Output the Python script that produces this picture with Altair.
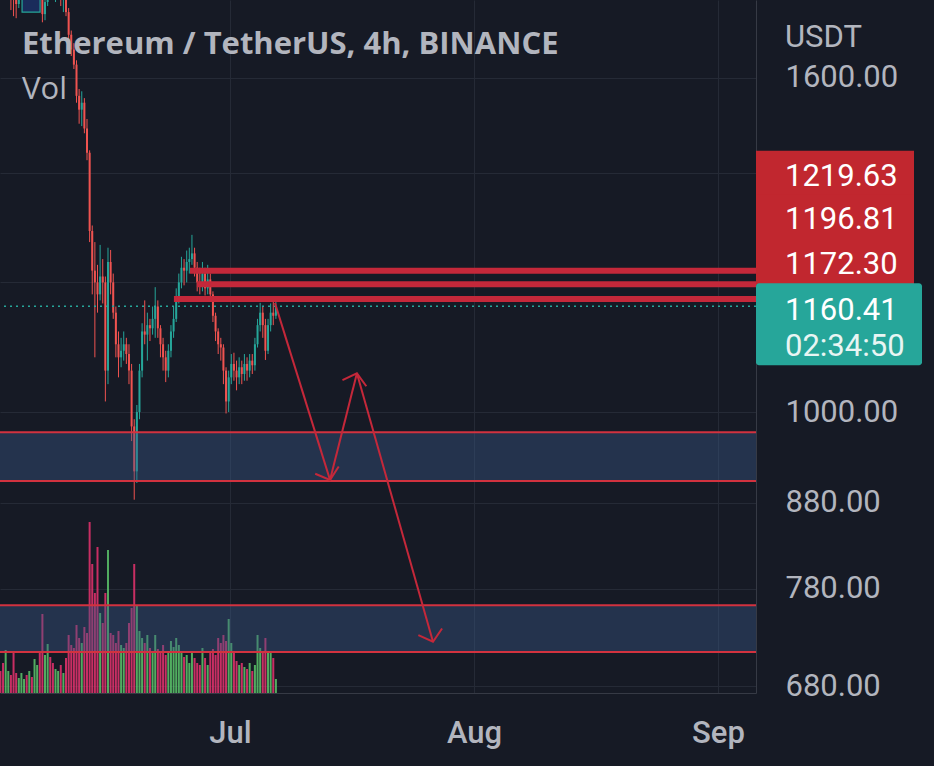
import altair as alt
import pandas as pd

# ---------------- data ----------------
# 8h candles of ETH/USDT starting 2022-06-01 00:00 UTC
first_open = 1942
close_ = [1900, 1860, 1820, 1810, 1830, 1835, 1810, 1790, 1775, 1790,
          1800, 1805, 1800, 1810, 1805, 1860, 1875, 1800, 1750, 1780,
          1815, 1810, 1795, 1795, 1800, 1790, 1790, 1755, 1700, 1665,
          1630, 1560, 1530, 1545, 1490, 1440, 1290, 1220, 1200, 1180,
          1210, 1200, 1060, 1235, 1200, 1150, 1100, 1080, 1090, 1100,
          1085, 1060, 980, 920, 1000, 1060, 1120, 1115, 1130, 1125,
          1140, 1160, 1125, 1100, 1080, 1060, 1090, 1120, 1140, 1170,
          1200, 1225, 1220, 1235, 1240, 1250, 1225, 1200, 1195, 1215,
          1190, 1205, 1180, 1145, 1120, 1100, 1095, 1060, 1015, 1050,
          1070, 1060, 1050, 1065, 1055, 1070, 1060, 1075, 1068, 1100,
          1130, 1150, 1130, 1090, 1130, 1150, 1145, 1160.41]
high_ = [1970, 1920, 1870, 1840, 1850, 1845, 1840, 1815, 1800, 1805,
         1810, 1815, 1815, 1825, 1820, 1880, 1900, 1885, 1810, 1790,
         1830, 1840, 1820, 1815, 1815, 1810, 1800, 1800, 1765, 1710,
         1680, 1640, 1575, 1570, 1555, 1510, 1445, 1300, 1270, 1230,
         1265, 1240, 1210, 1260, 1256, 1215, 1160, 1120, 1110, 1120,
         1110, 1100, 1070, 990, 1010, 1070, 1133, 1170, 1150, 1140,
         1160, 1192, 1170, 1130, 1110, 1090, 1100, 1130, 1160, 1190,
         1215, 1244, 1240, 1255, 1260, 1283, 1260, 1235, 1225, 1235,
         1225, 1230, 1215, 1185, 1150, 1125, 1110, 1100, 1065, 1060,
         1085, 1087, 1075, 1080, 1075, 1085, 1080, 1085, 1085, 1110,
         1140, 1166, 1160, 1140, 1140, 1165, 1170, 1168]
low_ = [1890, 1850, 1795, 1795, 1800, 1790, 1760, 1745, 1740, 1765,
        1785, 1790, 1790, 1795, 1790, 1800, 1850, 1790, 1730, 1735,
        1770, 1795, 1785, 1780, 1790, 1770, 1755, 1745, 1690, 1650,
        1620, 1545, 1500, 1495, 1480, 1425, 1270, 1180, 1080, 1150,
        1170, 1165, 1015, 1040, 1180, 1140, 1080, 1050, 1065, 1075,
        1070, 1040, 960, 884, 905, 990, 1050, 1100, 1075, 1105,
        1115, 1110, 1110, 1080, 1060, 1043, 1050, 1080, 1110, 1135,
        1165, 1190, 1195, 1200, 1215, 1230, 1210, 1185, 1180, 1185,
        1178, 1180, 1170, 1135, 1105, 1085, 1075, 1040, 998, 1000,
        1040, 1045, 1031, 1040, 1040, 1045, 1045, 1050, 1055, 1060,
        1095, 1120, 1110, 1076, 1085, 1120, 1130, 1140]
volume_k = [80, 72, 88, 120, 172, 88, 72, 164, 80, 60,
            80, 56, 72, 88, 64, 136, 112, 160, 316, 152,
            196, 144, 120, 96, 88, 112, 80, 140, 232, 192,
            180, 272, 220, 200, 264, 240, 684, 516, 400, 584,
            320, 280, 400, 572, 240, 232, 200, 248, 192, 180,
            200, 280, 340, 516, 352, 248, 220, 200, 232, 180,
            168, 232, 176, 160, 192, 152, 168, 208, 184, 220,
            192, 160, 144, 152, 120, 168, 140, 120, 112, 180,
            140, 112, 160, 176, 152, 220, 200, 232, 208, 296,
            200, 160, 128, 112, 120, 104, 96, 120, 88, 112,
            232, 180, 160, 220, 168, 160, 140, 56]

# support / resistance lines (price, start time)
level_prices = [1219.63, 1196.81, 1172.30]
level_starts = ["2022-06-25T22:00:00Z", "2022-06-26T19:00:00Z", "2022-06-23T21:00:00Z"]
last_price = 1160.41
countdown = "02:34:50"

# demand zones (top, bottom)
zone_tops = [972, 762]
zone_bottoms = [907.5, 713.5]

# projected path (arrows)
arrow_t0 = ["2022-07-06T17:00:00Z", "2022-07-13T17:00:00Z", "2022-07-17T03:00:00Z"]
arrow_p0 = [1166, 909, 1056]
arrow_t1 = ["2022-07-13T17:00:00Z", "2022-07-17T03:00:00Z", "2022-07-26T19:00:00Z"]
arrow_p1 = [909, 1056, 724]

# small drawn box top-left
box_t = ["2022-06-04T14:00:00Z", "2022-06-06T21:00:00Z"]
box_p = [1755, 1900]

y_ticks = [680, 780, 880, 1000, 1200, 1400, 1600]

# ---------------- styling ----------------
BG = "#161a25"
GRID = "#252a36"
TXT = "#b2b5be"
UP = "#26a69a"
DOWN = "#ef5350"
RED = "#c4283a"
FONT = "Roboto"
FS = 31

X_START = alt.DateTime(year=2022, month=6, date=1, hours=18, minutes=43, utc=True)
X_END = alt.DateTime(year=2022, month=9, date=5, hours=19, minutes=55, utc=True)
END_STR = "2022-09-05T19:55:00Z"

xscale = alt.Scale(type="utc", domain=[X_START, X_END], padding=0)
xaxis = alt.Axis(
    values=[alt.DateTime(year=2022, month=m, date=1, utc=True) for m in (7, 8, 9)],
    labelExpr="utcFormat(datum.value, '%b')", title=None, grid=True, gridColor=GRID,
    gridWidth=1, ticks=False, tickSize=0, labelPadding=40, labelBaseline="middle",
    labelFont=FONT, labelFontSize=FS, labelFontWeight=500, labelColor=TXT,
    domainColor="#363a45", labelFlush=False)
yscale = alt.Scale(type="log", domain=[673.6, 1785.1], nice=False, zero=False)
yaxis = alt.Axis(
    values=y_ticks, orient="right", title=None, grid=True, gridColor=GRID,
    gridWidth=1, ticks=False, tickSize=0, labelPadding=29, labelAlign="left",
    labelExpr="(datum.value == 1200 || datum.value == 1400) ? '' : format(datum.value, '.2f')",
    labelFont=FONT, labelFontSize=FS, labelColor=TXT, domainColor="#363a45",
    labelFlush=False)


def X(f):
    return alt.X(f, type="temporal", scale=xscale, axis=xaxis)


def Y(f):
    return alt.Y(f, type="quantitative", scale=yscale, axis=yaxis)


times = pd.date_range("2022-06-01 04:00", periods=len(close_), freq="8h", tz="UTC")
opens = [first_open] + close_[:-1]
df = pd.DataFrame({
    "t": times.strftime("%Y-%m-%dT%H:%M:%SZ"),
    "o": opens, "h": high_, "l": low_, "c": close_, "v": volume_k,
})

candle_color = alt.condition("datum.c >= datum.o", alt.value(UP), alt.value(DOWN))
vol_color = alt.condition("datum.c >= datum.o", alt.value("#5cc76b"), alt.value("#e8336f"))

volume = alt.Chart(df).mark_bar(width=2, opacity=0.85, clip=True).encode(
    x=X("t"),
    y=alt.Y("v:Q", scale=alt.Scale(domain=[0, 2772], nice=False), axis=None),
    color=vol_color,
)

wicks = alt.Chart(df).mark_rule(strokeWidth=1, clip=True).encode(
    x=X("t"), y=Y("l"), y2="h", color=candle_color)
bodies = alt.Chart(df).mark_bar(width=2, clip=True).encode(
    x=X("t"), y=Y("o"), y2="c", color=candle_color)

box_df = pd.DataFrame({"t0": [box_t[0]], "t1": [box_t[1]], "p0": [box_p[0]], "p1": [box_p[1]]})
drawn_box = alt.Chart(box_df).mark_rect(
    fill="#2962ff", fillOpacity=0.25, stroke=UP, strokeWidth=1.2, clip=True
).encode(x=X("t0"), x2="t1", y=Y("p0"), y2="p1")

zone_df = pd.DataFrame({"top": zone_tops, "bot": zone_bottoms,
                        "t0": ["2022-05-20T00:00:00Z"] * 2, "t1": [END_STR] * 2})
zones = alt.Chart(zone_df).mark_rect(fill="#3a5a8a", opacity=0.4, clip=True).encode(
    x=X("t0"), x2="t1", y=Y("top"), y2="bot")
zone_top_lines = alt.Chart(zone_df).mark_rule(color="#d2323f", strokeWidth=2, clip=True).encode(
    x=X("t0"), x2="t1", y=Y("top"))
zone_bot_lines = alt.Chart(zone_df).mark_rule(color="#d2323f", strokeWidth=2, clip=True).encode(
    x=X("t0"), x2="t1", y=Y("bot"))

lvl_df = pd.DataFrame({"p": level_prices, "t0": level_starts, "t1": [END_STR] * 3})
levels = alt.Chart(lvl_df).mark_rule(color=RED, strokeWidth=6, clip=True).encode(
    x=X("t0"), x2="t1", y=Y("p"))

last_df = pd.DataFrame({"p": [last_price]})
last_line = alt.Chart(last_df).mark_rule(
    color=UP, strokeWidth=1.5, strokeDash=[2, 4], clip=True).encode(y=Y("p"))

arr_df = pd.DataFrame({"t0": arrow_t0, "p0": arrow_p0, "t1": arrow_t1, "p1": arrow_p1,
                       "ang": [162.7, 14.2, 164.2]})
arrow_lines = alt.Chart(arr_df).mark_rule(color=RED, strokeWidth=2, clip=True).encode(
    x=X("t0"), x2="t1", y=Y("p0"), y2="p1")
arrow_heads = alt.Chart(arr_df).mark_point(
    shape="M -0.77 0.64 L 0 0 L 0.77 0.64", filled=False, stroke=RED,
    strokeWidth=2, size=1024, opacity=1, clip=True
).encode(x=X("t1"), y=Y("p1"), angle=alt.Angle("ang:Q", scale=None))

one = pd.DataFrame({"a": [0]})
title = alt.Chart(one).mark_text(
    text="Ethereum / TetherUS, 4h, BINANCE", font="Open Sans", fontSize=31,
    fontWeight="bold", color=TXT, align="left", baseline="alphabetic"
).encode(x=alt.value(22), y=alt.value(54))
vol_label = alt.Chart(one).mark_text(
    text="Vol", font="Open Sans", fontSize=31, color=TXT, align="left",
    baseline="alphabetic").encode(x=alt.value(22), y=alt.value(99))
usdt = alt.Chart(one).mark_text(
    text="USDT", font=FONT, fontSize=FS, color=TXT, align="left",
    baseline="alphabetic").encode(x=alt.value(785), y=alt.value(47))

label_offsets = [-97, -67, -37]
label_layers = []
for p, off in zip(level_prices, label_offsets):
    d = pd.DataFrame({"p": [p], "txt": [f"{p:.2f}"]})
    label_layers.append(alt.Chart(d).mark_rect(
        color="#c1272f", yOffset=off - 23, y2Offset=off + 23
    ).encode(x=alt.value(756), x2=alt.value(914), y=Y("p"), y2="p"))
for p, off in zip(level_prices, label_offsets):
    d = pd.DataFrame({"p": [p], "txt": [f"{p:.2f}"]})
    label_layers.append(alt.Chart(d).mark_text(
        font=FONT, fontSize=FS, color="#ffffff", align="left", baseline="middle",
        yOffset=off + 3
    ).encode(x=alt.value(785), y=Y("p"), text="txt:N"))

ld = pd.DataFrame({"p": [last_price], "txt": [f"{last_price:.2f}"], "cd": [countdown]})
label_layers.append(alt.Chart(ld).mark_rect(
    color=UP, yOffset=-23, y2Offset=59, cornerRadius=3
).encode(x=alt.value(756), x2=alt.value(922), y=Y("p"), y2="p"))
label_layers.append(alt.Chart(ld).mark_text(
    font=FONT, fontSize=FS, color="#ffffff", align="left", baseline="middle", yOffset=5
).encode(x=alt.value(785), y=Y("p"), text="txt:N"))
label_layers.append(alt.Chart(ld).mark_text(
    font=FONT, fontSize=FS, color="#e8f5f3", align="left", baseline="middle", yOffset=41
).encode(x=alt.value(785), y=Y("p"), text="cd:N"))

price_group = alt.layer(
    wicks, bodies, drawn_box, zones, zone_top_lines, zone_bot_lines, levels,
    last_line, arrow_lines, arrow_heads, title, vol_label, usdt, *label_layers
)

chart = alt.layer(volume, price_group).resolve_scale(y="independent").properties(
    width=756, height=693,
    background=BG,
    padding={"left": 0, "top": 0, "right": 178, "bottom": 73},
    autosize=alt.AutoSizeParams(type="none"),
).configure_view(stroke=None)

chart.save("out.html", embed_options={"renderer": "svg", "actions": False})
